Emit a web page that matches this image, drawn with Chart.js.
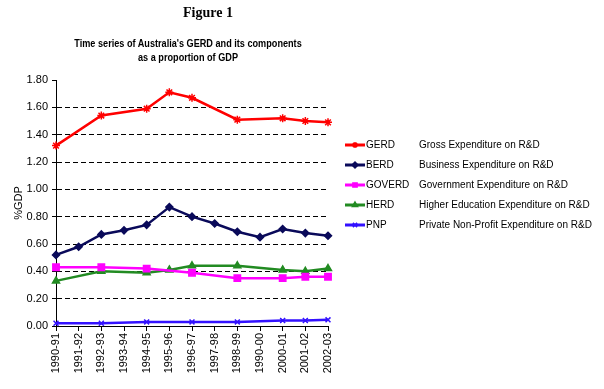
<!DOCTYPE html>
<html><head><meta charset="utf-8">
<script src="https://cdn.jsdelivr.net/npm/chart.js@4/dist/chart.umd.min.js"></script>
<style>
html,body{margin:0;padding:0;background:#fff;}
#wrap{position:relative;width:604px;height:389px;overflow:hidden;}
#fig{position:absolute;left:0;width:416px;top:5px;text-align:center;font:bold 14px "Liberation Serif","Times New Roman",serif;color:#000;}
#sub{position:absolute;left:0;width:376px;top:36px;text-align:center;color:#000;}
#sub span{display:inline-block;transform:scaleX(0.83);transform-origin:center;font:bold 11px/14px "Liberation Sans",Arial,sans-serif;white-space:nowrap;}
canvas{position:absolute;left:0;top:0;}
</style>
</head><body><div id="wrap">
<canvas id="c" width="604" height="389"></canvas>
<div id="fig">Figure 1</div>
<div id="sub"><span>Time series of Australia's GERD and its components<br>as a proportion of GDP</span></div>
</div>
<script>
const categories = ['1990-91','1991-92','1992-93','1993-94','1994-95','1995-96','1996-97','1997-98','1998-99','1990-00','2000-01','2001-02','2002-03'];
const gerd   = [1.32, null, 1.54, null, 1.59, 1.71, 1.67, null, 1.51, null, 1.52, 1.50, 1.49];
const berd   = [0.52, 0.58, 0.67, 0.70, 0.74, 0.87, 0.80, 0.75, 0.69, 0.65, 0.71, 0.68, 0.66];
const goverd = [0.43, null, 0.43, null, 0.42, null, 0.39, null, 0.35, null, 0.35, 0.36, 0.36];
const herd   = [0.33, null, 0.40, null, 0.39, 0.41, 0.44, null, 0.44, null, 0.41, 0.40, 0.42];
const pnp    = [0.02, null, 0.02, null, 0.03, null, 0.03, null, 0.03, null, 0.04, 0.04, 0.045];
const seriesNames = ['GERD','BERD','GOVERD','HERD','PNP'];
const seriesDescriptions = ['Gross Expenditure on R&D','Business Expenditure on R&D','Government Expenditure on R&D','Higher Education Expenditure on R&D','Private Non-Profit Expenditure on R&D'];
const yTickLabels = ['0.00','0.20','0.40','0.60','0.80','1.00','1.20','1.40','1.60','1.80'];

const FONT = '"Liberation Sans", Arial, sans-serif';

function mk(label, data, color, style, radius) {
  return {label, data, borderColor: color, backgroundColor: color, pointBackgroundColor: color,
    pointBorderColor: color, pointStyle: style, pointRadius: radius, pointBorderWidth: 1.5,
    borderWidth: 2.5, tension: 0, spanGaps: true, fill: false};
}

const datasets = [
  mk(seriesNames[0], gerd, '#ff0000', 'star', 4),
  mk(seriesNames[1], berd, '#0a0a5a', 'rectRot', 3.5),
  mk(seriesNames[2], goverd, '#ff00ff', 'rect', 4.5),
  mk(seriesNames[3], herd, '#228b22', 'triangle', 4),
  mk(seriesNames[4], pnp, '#3311ff', 'crossRot', 3.5)
];

const legendPlugin = {
  id: 'sideLegend',
  afterDraw(chart) {
    const ctx = chart.ctx;
    chart.data.datasets.forEach((ds, i) => {
      const y = 145 + i * 20;
      ctx.save();
      ctx.strokeStyle = ds.borderColor;
      ctx.lineWidth = 3;
      ctx.beginPath(); ctx.moveTo(345, y); ctx.lineTo(365, y); ctx.stroke();
      ctx.fillStyle = ds.borderColor;
      ctx.lineWidth = 1.5;
      Chart.helpers.drawPoint(ctx, {pointStyle: ds.pointStyle, radius: 3, rotation: 0, borderWidth: 1.5}, 355, y);
      ctx.fillStyle = '#000';
      ctx.font = '10px ' + FONT;
      ctx.textBaseline = 'middle';
      ctx.textAlign = 'left';
      ctx.fillText(ds.label, 366, y);
      ctx.fillText(seriesDescriptions[i], 419, y);
      ctx.restore();
    });
  }
};

new Chart(document.getElementById('c'), {
  type: 'line',
  data: {labels: categories, datasets},
  plugins: [legendPlugin],
  options: {
    responsive: false, animation: false,
    layout: {padding: {left: 0, top: 80, right: 276, bottom: 0}},
    plugins: {legend: {display: false}, title: {display: false}, tooltip: {enabled: false}},
    scales: {
      x: {
        type: 'category', offset: false,
        grid: {display: true, drawOnChartArea: false, drawTicks: true, tickLength: 5, tickColor: '#000', tickWidth: 1},
        border: {display: true, color: '#000', width: 1},
        ticks: {autoSkip: false, minRotation: 90, maxRotation: 90, color: '#000', padding: 2, font: {family: FONT, size: 11}},
        afterFit(s) { s.height = 63; }
      },
      y: {
        min: 0, max: 1.8,
        grid: {
          color: c => (c.tick && (Math.abs(c.tick.value) < 1e-6 || Math.abs(c.tick.value - 1.8) < 1e-6)) ? 'rgba(0,0,0,0)' : '#000',
          tickColor: '#000', tickLength: 4, lineWidth: 1, drawTicks: true
        },
        border: {display: true, color: '#000', width: 1, dash: [5, 3]},
        ticks: {stepSize: 0.2, padding: 4, color: '#000', font: {family: FONT, size: 11},
          callback: (v, i) => yTickLabels[i]},
        title: {display: true, text: '%GDP', color: '#000', font: {family: FONT, size: 11}, padding: {top: 12, bottom: 0}},
        afterFit(s) { s.width = 56; }
      }
    }
  }
});
</script>
</body></html>
